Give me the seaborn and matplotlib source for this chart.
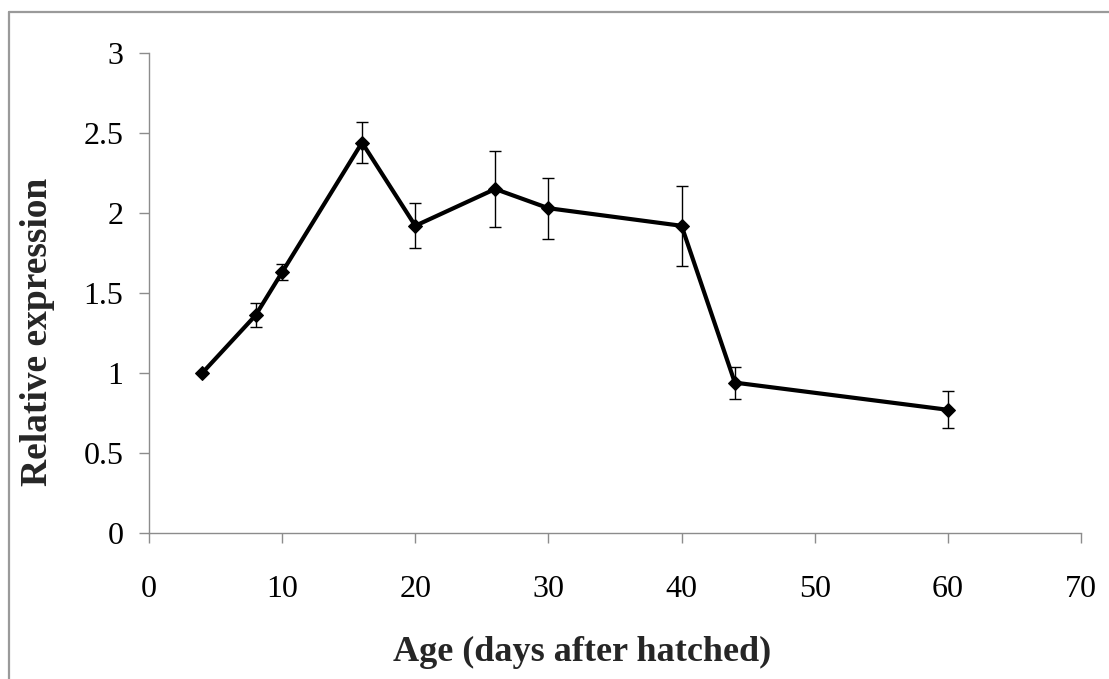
import numpy as np
import pandas as pd
import matplotlib
matplotlib.use("Agg")
import matplotlib.pyplot as plt
import seaborn as sns
from matplotlib.lines import Line2D

# values
age = [4, 8, 10, 16, 20, 26, 30, 40, 44, 60]
expr = [1.00, 1.36, 1.63, 2.44, 1.92, 2.15, 2.03, 1.92, 0.94, 0.77]
err = [0.0, 0.075, 0.05, 0.13, 0.14, 0.24, 0.19, 0.25, 0.10, 0.115]
xticks = [0, 10, 20, 30, 40, 50, 60, 70]
yticks = [0, 0.5, 1, 1.5, 2, 2.5, 3]
ytick_labels = ["0", "0.5", "1", "1.5", "2", "2.5", "3"]

df = pd.DataFrame({"age": age, "expr": expr, "err": err})

sns.set_style("ticks")
plt.rcParams['font.family'] = ['Liberation Serif', 'DejaVu Serif']

fig = plt.figure(figsize=(11.09, 6.79), dpi=100)
ax = fig.add_axes([149/1109, 1-533/679, (1081-149)/1109, (533-53)/679])

# error bars first, then line + markers on top
ax.errorbar(df["age"], df["expr"], yerr=df["err"], fmt="none",
            ecolor="black", elinewidth=1, capsize=4.6, capthick=1, zorder=2)
sns.lineplot(data=df, x="age", y="expr", ax=ax, color="black", linewidth=3,
             marker="D", markersize=7.5, markeredgecolor="black",
             markerfacecolor="black", zorder=3)

ax.set_xlim(0, 70)
ax.set_ylim(0, 3)
ax.set_xticks(xticks)
ax.set_yticks(yticks)
ax.set_yticklabels(ytick_labels)
ax.set_xlabel("")
ax.set_ylabel("")

for side in ["top", "right"]:
    ax.spines[side].set_visible(False)
for side in ["left", "bottom"]:
    ax.spines[side].set_color("#8c8c8c")
    ax.spines[side].set_linewidth(1)
ax.tick_params(axis="both", direction="out", length=7.5, width=1,
               color="#8c8c8c", labelsize=23, labelcolor="black")
ax.tick_params(axis="x", pad=23)
ax.tick_params(axis="y", pad=11)

fig.text(582/1109, 1-652/679, "Age (days after hatched)", ha="center",
         va="center", fontsize=26, fontweight="bold")
fig.text(38/1109, 1-332/679, "Relative expression", ha="center",
         va="center", rotation=90, fontsize=27, fontweight="bold")

# outer frame (cropped at right and bottom)
fig.add_artist(Line2D([9/1109, 9/1109], [0, 1-12/679], transform=fig.transFigure,
                      color="#9a9a9a", linewidth=1.6))
fig.add_artist(Line2D([9/1109, 1], [1-12/679, 1-12/679], transform=fig.transFigure,
                      color="#9a9a9a", linewidth=1.6))

fig.savefig("out.png", dpi=100)
